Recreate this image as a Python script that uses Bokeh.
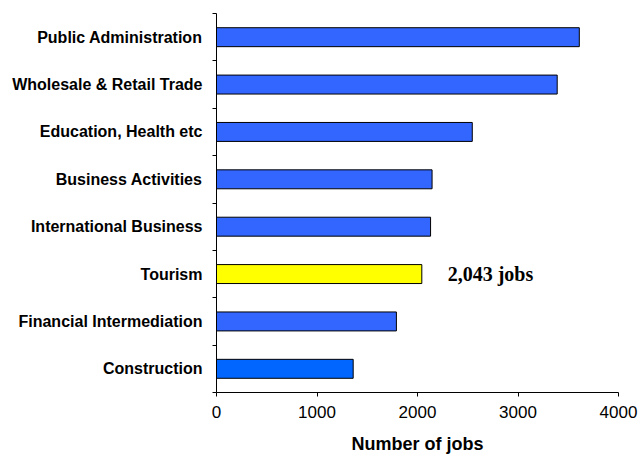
from bokeh.plotting import figure
from bokeh.models import ColumnDataSource, FixedTicker, Range1d, Label
from bokeh.embed import file_html
from bokeh.resources import INLINE

# ---- data (bottom to top) ----
categories = ["Construction", "Financial Intermediation", "Tourism",
              "International Business", "Business Activities",
              "Education, Health etc", "Wholesale & Retail Trade",
              "Public Administration"]
jobs = [1360, 1790, 2043, 2130, 2145, 2545, 3390, 3610]
x_ticks = [0, 1000, 2000, 3000, 4000]
x_tick_labels = ["0", "1000", "2000", "3000", "4000"]
highlight = "Tourism"
highlight_label = "2,043 jobs"
x_title = "Number of jobs"

# ---- styling ----
bar_colors = []
for c in categories:
    if c == highlight:
        bar_colors.append("#FFFF00")
    elif c == "Construction":
        bar_colors.append("#0066FF")
    else:
        bar_colors.append("#3366FF")

n = len(categories)
centers = [i + 0.5 for i in range(n)]

src = ColumnDataSource(dict(y=centers, right=jobs, color=bar_colors, cat=categories))

p = figure(width=641, height=456, output_backend="svg", toolbar_location=None,
           x_range=Range1d(0, 4000), y_range=Range1d(0, n),
           min_border_left=216, min_border_right=23, min_border_top=13,
           min_border_bottom=63)
p.outline_line_color = None
p.grid.visible = False
p.background_fill_color = "white"
p.border_fill_color = "white"

p.hbar(y="y", left=0, right="right", height=0.4, fill_color="color",
       line_color="black", line_width=1, source=src)

# x axis
xa = p.xaxis[0]
xa.ticker = FixedTicker(ticks=x_ticks)
xa.major_label_overrides = {t: l for t, l in zip(x_ticks, x_tick_labels)}
xa.major_tick_out = 4
xa.major_tick_in = 0
xa.minor_tick_line_color = None
xa.axis_line_color = "black"
xa.major_tick_line_color = "black"
xa.major_label_text_font = "Liberation Sans"
xa.major_label_text_font_size = "17px"
xa.major_label_text_color = "black"
xa.major_label_standoff = 9
xa.axis_label = x_title
xa.axis_label_text_font = "Liberation Sans"
xa.axis_label_text_font_style = "bold"
xa.axis_label_text_font_size = "18px"
xa.axis_label_text_color = "black"
xa.axis_label_standoff = 13

# y axis: labels at centers, ticks at category boundaries
ya = p.yaxis[0]
ya.ticker = FixedTicker(ticks=centers, minor_ticks=list(range(n + 1)))
ya.major_label_overrides = {c: lab for c, lab in zip(centers, categories)}
ya.major_tick_line_color = None
ya.major_tick_out = 0
ya.major_tick_in = 0
ya.minor_tick_out = 4
ya.minor_tick_in = 0
ya.minor_tick_line_color = "black"
ya.axis_line_color = "black"
ya.major_label_text_font = "Liberation Sans"
ya.major_label_text_font_style = "bold"
ya.major_label_text_font_size = "16px"
ya.major_label_text_color = "black"
ya.major_label_standoff = 10

idx = categories.index(highlight)
p.add_layout(Label(x=2300, y=centers[idx], text=highlight_label,
                   text_font="Liberation Serif", text_font_style="bold",
                   text_font_size="20px", text_baseline="middle",
                   text_color="black"))

open("out.html", "w").write(file_html(p, INLINE))
